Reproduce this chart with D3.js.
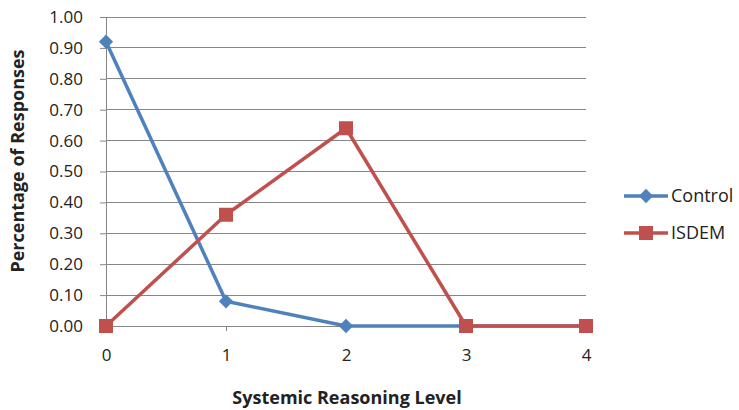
<!DOCTYPE html>
<html><head><meta charset="utf-8">
<script src="https://cdn.jsdelivr.net/npm/d3@7"></script>
<style>body{margin:0;background:#fff;} text{font-family:"Open Sans",sans-serif;}</style>
</head><body>
<svg id="c" width="739" height="410"></svg>
<script>
const levels = [0, 1, 2, 3, 4];
const controlValues = [0.92, 0.08, 0.00, 0.00, 0.00];
const isdemValues = [0.00, 0.36, 0.64, 0.00, 0.00];
const yTicks = [0, 0.1, 0.2, 0.3, 0.4, 0.5, 0.6, 0.7, 0.8, 0.9, 1.0];
const seriesNames = ["Control", "ISDEM"];
const colors = ["#4F81BD", "#C0504D"];

const svg = d3.select("#c");
const x = d3.scaleLinear().domain([0, 4]).range([106, 586]);
const y = d3.scaleLinear().domain([0, 1]).range([326, 17]);

// gridlines
svg.append("g").selectAll("line").data(yTicks.filter(d => d > 0)).join("line")
  .attr("x1", x(0)).attr("x2", x(4)).attr("y1", d => y(d)).attr("y2", d => y(d))
  .attr("stroke", "#868686").attr("stroke-width", 1).attr("shape-rendering", "crispEdges");

// y axis
const ya = svg.append("g").attr("transform", `translate(${x(0)},0)`)
  .call(d3.axisLeft(y).tickValues(yTicks).tickFormat(d3.format(".2f")).tickSize(6).tickPadding(17));
ya.select(".domain").attr("stroke", "#868686");
ya.selectAll(".tick line").attr("stroke", "#868686");
ya.selectAll("text").attr("font-size", 17).attr("fill", "#222").style("font-family", "Open Sans");

// x axis
const xa = svg.append("g").attr("transform", `translate(0,${y(0)})`)
  .call(d3.axisBottom(x).tickValues(levels).tickFormat(d3.format("d")).tickSize(5).tickPadding(18));
xa.select(".domain").attr("stroke", "#868686");
xa.selectAll(".tick line").attr("stroke", "#868686");
xa.selectAll("text").attr("font-size", 17).attr("fill", "#222").style("font-family", "Open Sans");

const data = [controlValues, isdemValues];
const line = d3.line().x((d, i) => x(levels[i])).y(d => y(d));
data.forEach((vals, s) => {
  svg.append("path").datum(vals).attr("d", line).attr("fill", "none")
    .attr("stroke", colors[s]).attr("stroke-width", 3.5).attr("stroke-linejoin", "round");
});
// markers
const diamond = d3.symbol().type(d3.symbolDiamond2).size(130);
const square = d3.symbol().type(d3.symbolSquare).size(196);
svg.append("g").selectAll("path").data(controlValues).join("path")
  .attr("d", diamond).attr("transform", (d, i) => `translate(${x(levels[i])},${y(d)})`)
  .attr("fill", colors[0]);
svg.append("g").selectAll("path").data(isdemValues).join("path")
  .attr("d", square).attr("transform", (d, i) => `translate(${x(levels[i])},${y(d)})`)
  .attr("fill", colors[1]);

// axis titles
svg.append("text").attr("x", 347).attr("y", 404).attr("text-anchor", "middle")
  .attr("font-size", 18).attr("font-weight", "bold").attr("fill", "#222").text("Systemic Reasoning Level");
svg.append("text").attr("transform", "translate(24,161) rotate(-90)").attr("text-anchor", "middle")
  .attr("font-size", 18).attr("font-weight", "bold").attr("fill", "#222").text("Percentage of Responses");

// legend
const lg = svg.append("g");
seriesNames.forEach((n, i) => {
  const ly = 196 + i * 37;
  lg.append("line").attr("x1", 624).attr("x2", 668).attr("y1", ly).attr("y2", ly)
    .attr("stroke", colors[i]).attr("stroke-width", 3.5);
  lg.append("path").attr("d", i === 0 ? diamond : square)
    .attr("transform", `translate(646,${ly})`).attr("fill", colors[i]);
  lg.append("text").attr("x", 671).attr("y", ly).attr("dy", "0.35em")
    .attr("font-size", 18).attr("fill", "#222").text(n);
});
</script>
</body></html>
